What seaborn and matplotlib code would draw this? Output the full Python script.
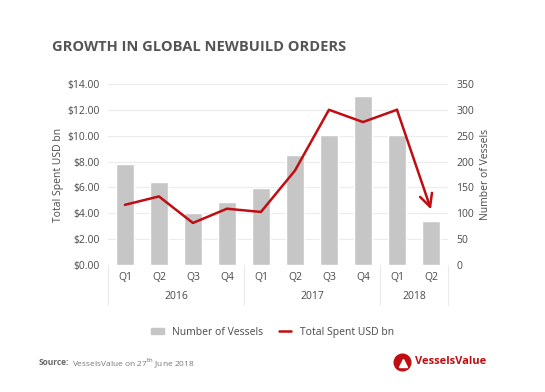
import numpy as np
import pandas as pd
import matplotlib
matplotlib.use("Agg")
import matplotlib.pyplot as plt
import matplotlib.transforms as mtransforms
from matplotlib.lines import Line2D
from matplotlib.patches import Patch
import seaborn as sns

quarters = ["Q1", "Q2", "Q3", "Q4", "Q1", "Q2", "Q3", "Q4", "Q1", "Q2"]
years = ["2016", "2017", "2018"]
year_counts = [4, 4, 2]
vessels = [195, 161, 101, 122, 148, 212, 251, 326, 251, 85]
spent = [4.65, 5.3, 3.25, 4.35, 4.1, 7.3, 12.0, 11.05, 12.0, np.nan]
arrow_end = 4.3  # where the hand drawn arrow points for Q2 2018

red = "#c00d12"
grey_bar = "#c6c6c6"
txt = "#4a4a4a"

df = pd.DataFrame({"pos": np.arange(len(quarters)), "vessels": vessels, "spent": spent})

sns.set_style("white")
plt.rcParams["font.family"] = ["Open Sans", "DejaVu Sans"]

fig = plt.figure(figsize=(5.45, 3.92), dpi=100)
ax = fig.add_axes([0.198, 0.324, 0.624, 0.462])
ax2 = ax.twinx()

# bars on the primary axes (right scale), line on the twin (left scale)
sns.barplot(data=df, x="pos", y="vessels", color=grey_bar, width=0.52,
            saturation=1, ax=ax, order=list(range(len(quarters))))
ax.yaxis.tick_right()
ax.yaxis.set_label_position("right")
ax.set_ylim(0, 350)
ax.set_yticks(range(0, 351, 50))
ax.set_ylabel("Number of Vessels", fontsize=7.5, color=txt, labelpad=4)
ax.grid(axis="y", color="#ececec", lw=0.8)
ax.set_axisbelow(True)

sns.lineplot(data=df.dropna(), x="pos", y="spent", color=red, lw=1.8, ax=ax2)
ax2.yaxis.tick_left()
ax2.yaxis.set_label_position("left")
ax2.set_ylim(0, 14)
ax2.set_yticks(np.arange(0, 14.1, 2))
ax2.set_yticklabels([f"${v:.2f}" for v in np.arange(0, 14.1, 2)])
ax2.set_ylabel("Total Spent USD bn", fontsize=7.5, color=txt, labelpad=2)

last = len(quarters) - 2
ax2.annotate("", xy=(last + 1, arrow_end), xytext=(last, spent[last]),
             arrowprops=dict(arrowstyle="->,head_length=0.9,head_width=0.45",
                             color=red, lw=1.8, shrinkA=0, shrinkB=0))

for a in (ax, ax2):
    for s in a.spines.values():
        s.set_visible(False)
    a.tick_params(axis="y", length=0, labelsize=7.5, labelcolor=txt, pad=6)
ax.set_xlim(-0.5, len(quarters) - 0.5)
ax.set_xticks(range(len(quarters)))
ax.set_xticklabels(quarters)
ax.tick_params(axis="x", length=0, labelsize=7.5, labelcolor=txt, pad=5)
ax.set_xlabel("")
ax2.set_xlabel("")

# year row and separators
trans = mtransforms.blended_transform_factory(ax.transData, ax.transAxes)
start = 0
edges = [-0.5]
for y, n in zip(years, year_counts):
    ax.text(start + (n - 1) / 2, -0.175, y, transform=trans, ha="center",
            va="center", fontsize=7.5, color=txt)
    start += n
    edges.append(start - 0.5)
for e in edges:
    ax.plot([e, e], [0, -0.22], transform=trans, color="#ebebeb", lw=0.8,
            clip_on=False)

fig.text(0.095, 0.88, "GROWTH IN GLOBAL NEWBUILD ORDERS", fontsize=10.5,
         fontweight="bold", color="#555555", va="center")

handles = [Patch(color=grey_bar), Line2D([], [], color=red, lw=1.8)]
fig.legend(handles, ["Number of Vessels", "Total Spent USD bn"],
           loc="center", bbox_to_anchor=(0.5, 0.153), ncol=2, frameon=False,
           fontsize=7.5, labelcolor=txt, handlelength=1.2, handleheight=0.5,
           columnspacing=1.5)

fig.text(0.07, 0.074, "Source:", fontsize=6, fontweight="bold", color="#666666",
         va="center")
fig.text(0.132, 0.074, r"VesselsValue on 27$^{\mathrm{th}}$ June 2018",
         fontsize=6, color="#777777", va="center")

fig.add_artist(Line2D([0.738], [0.077], marker="o", ms=12, color=red,
                      transform=fig.transFigure))
fig.add_artist(Line2D([0.739], [0.075], marker="^", ms=6, color="white",
                      transform=fig.transFigure))
fig.text(0.762, 0.077, "VesselsValue", fontsize=8, fontweight="bold", color=red,
         va="center")

fig.savefig("out.png", dpi=100)
